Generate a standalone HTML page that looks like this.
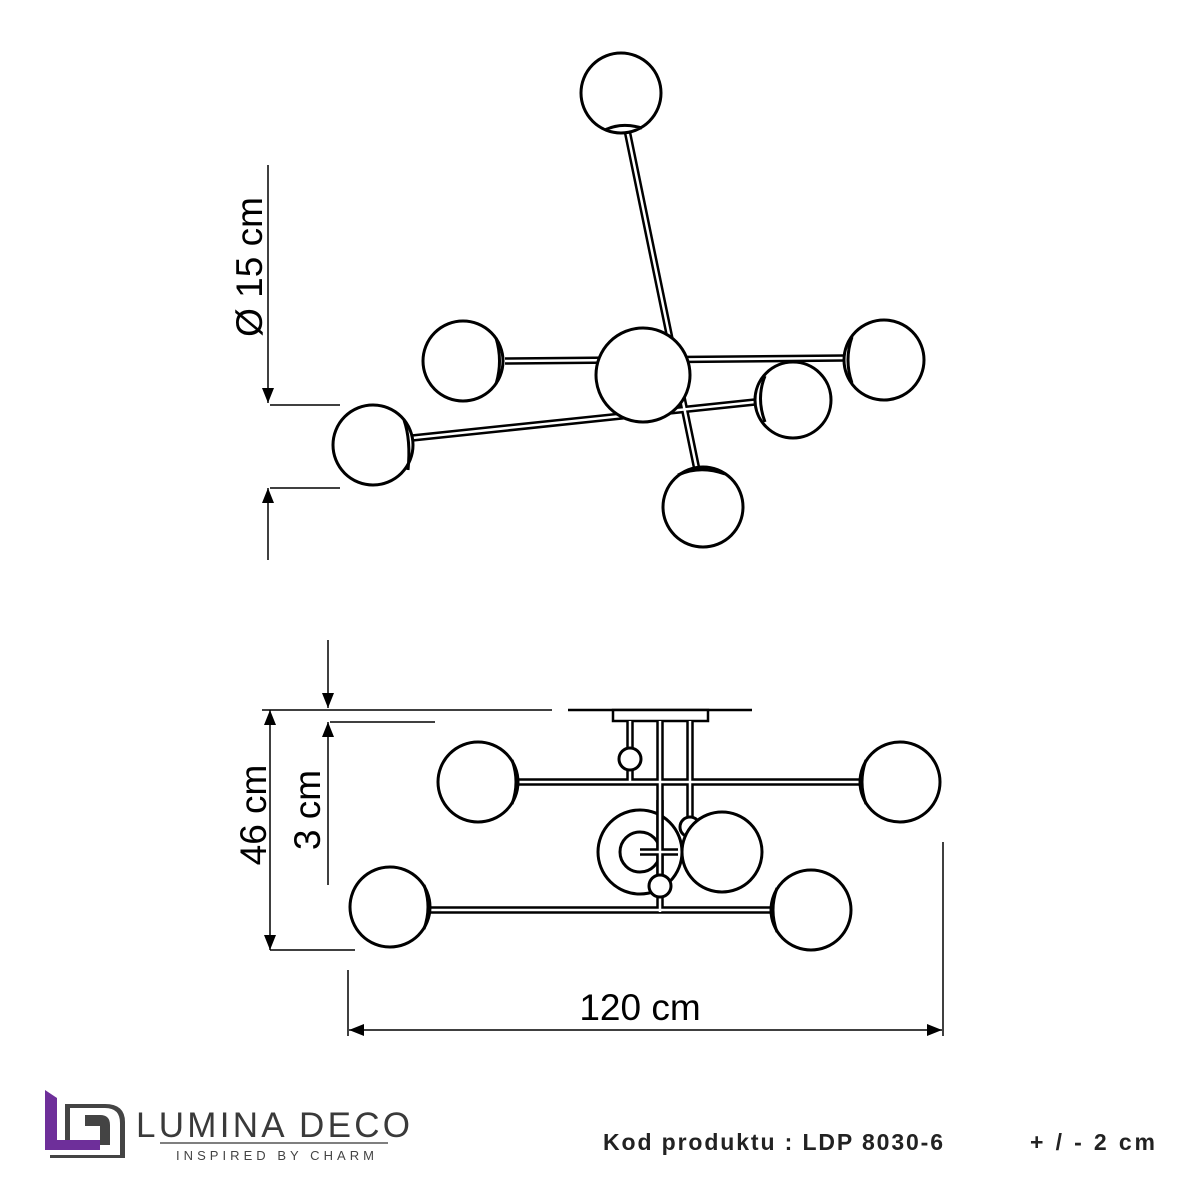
<!DOCTYPE html>
<html><head><style>body{margin:0;background:#fff}svg{display:block}</style></head><body>
<svg width="1201" height="1201" viewBox="0 0 1201 1201" xmlns="http://www.w3.org/2000/svg" font-family="'Liberation Sans',sans-serif">
<defs>
<marker id="a" viewBox="0 0 10 10" refX="10" refY="5" markerWidth="15" markerHeight="15" markerUnits="userSpaceOnUse" orient="auto"><path d="M0,1 L10,5 L0,9 z" fill="#000"/></marker>
</defs>
<g stroke="#000" fill="none">
<g stroke-width="7.5"><line x1="627" y1="130" x2="697" y2="470"/><line x1="505" y1="361" x2="845" y2="358"/><line x1="412" y1="438" x2="755" y2="402"/></g>
<g stroke="#fff" stroke-width="2.5"><line x1="627" y1="130" x2="697" y2="470"/><line x1="505" y1="361" x2="845" y2="358"/><line x1="412" y1="438" x2="755" y2="402"/></g>
<g stroke-width="3" fill="#fff">
<circle cx="621" cy="93" r="40"/><path d="M605,130 Q621,122 642,128"/>
<circle cx="463" cy="361" r="40"/><path d="M496,338 Q503,361 496,384"/>
<circle cx="373" cy="445" r="40"/><path d="M404,420 Q411,440 408,470"/>
<circle cx="884" cy="360" r="40"/><path d="M852,337 Q844,360 852,383"/>
<circle cx="793" cy="400" r="38"/><path d="M765,376 Q756,398 765,422"/>
<circle cx="703" cy="507" r="40"/><path d="M678,475 Q700,465 725,474"/>
<circle cx="643" cy="375" r="47"/>
</g>
<g stroke-width="1.5">
<line x1="268" y1="165" x2="268" y2="403" marker-end="url(#a)"/>
<line x1="268" y1="560" x2="268" y2="488" marker-end="url(#a)"/>
<line x1="270" y1="405" x2="340" y2="405"/><line x1="270" y1="488" x2="340" y2="488"/>
</g>
<g stroke-width="1.5"><line x1="330" y1="710" x2="552" y2="710"/><line x1="330" y1="722" x2="435" y2="722"/></g>
<line x1="568" y1="710" x2="752" y2="710" stroke-width="2.5"/>
<rect x="613" y="710" width="95" height="11" stroke-width="2.5" fill="#fff"/>
<g stroke-width="7.5"><line x1="510" y1="782" x2="865" y2="782"/><line x1="425" y1="910" x2="775" y2="910"/>
<line x1="660" y1="721" x2="660" y2="912"/><line x1="690" y1="721" x2="690" y2="820"/><line x1="630" y1="721" x2="630" y2="782"/></g>
<g stroke="#fff" stroke-width="2.5"><line x1="510" y1="782" x2="865" y2="782"/><line x1="425" y1="910" x2="775" y2="910"/>
<line x1="660" y1="721" x2="660" y2="912"/><line x1="690" y1="721" x2="690" y2="820"/><line x1="630" y1="721" x2="630" y2="782"/></g>
<g stroke-width="3" fill="#fff">
<circle cx="478" cy="782" r="40"/><path d="M512,760 Q520,782 512,804"/>
<circle cx="900" cy="782" r="40"/><path d="M866,760 Q858,782 866,804"/>
<circle cx="390" cy="907" r="40"/><path d="M424,885 Q432,907 424,929"/>
<circle cx="811" cy="910" r="40"/><path d="M777,888 Q769,910 777,932"/>
<circle cx="630" cy="759" r="11"/>
<circle cx="690" cy="827" r="10"/>
</g>
<circle cx="640" cy="852" r="42" stroke-width="3"/>
<circle cx="640" cy="852" r="20" stroke-width="3"/>
<g stroke-width="7.5"><line x1="640" y1="852" x2="678" y2="852"/><line x1="660" y1="800" x2="660" y2="880"/></g>
<g stroke="#fff" stroke-width="2.5"><line x1="640" y1="852" x2="678" y2="852"/><line x1="660" y1="800" x2="660" y2="880"/></g>
<circle cx="722" cy="852" r="40" stroke-width="3" fill="#fff"/>
<circle cx="660" cy="886" r="11" stroke-width="3" fill="#fff"/>
<g stroke-width="1.5">
<line x1="270" y1="830" x2="270" y2="710" marker-end="url(#a)"/>
<line x1="270" y1="830" x2="270" y2="950" marker-end="url(#a)"/>
<line x1="262" y1="710" x2="330" y2="710"/><line x1="270" y1="950" x2="355" y2="950"/>
<line x1="328" y1="640" x2="328" y2="708" marker-end="url(#a)"/>
<line x1="328" y1="885" x2="328" y2="722" marker-end="url(#a)"/>
<line x1="348" y1="970" x2="348" y2="1036"/><line x1="943" y1="842" x2="943" y2="1036"/>
<line x1="640" y1="1030" x2="349" y2="1030" marker-end="url(#a)"/>
<line x1="640" y1="1030" x2="942" y2="1030" marker-end="url(#a)"/>
</g>
</g>
<g fill="#000">
<text transform="translate(262,267) rotate(-90)" text-anchor="middle" font-size="37">Ø 15 cm</text>
<text transform="translate(266,815) rotate(-90)" text-anchor="middle" font-size="37">46 cm</text>
<text transform="translate(320,810) rotate(-90)" text-anchor="middle" font-size="37">3 cm</text>
<text x="640" y="1020" text-anchor="middle" font-size="37">120 cm</text>
<text x="603" y="1150" font-size="23" font-weight="bold" fill="#222" textLength="340" lengthAdjust="spacing">Kod produktu :  LDP 8030-6</text>
<text x="1030" y="1150" font-size="23" font-weight="bold" fill="#222" textLength="125" lengthAdjust="spacing">+ / - 2 cm</text>
</g>
<path d="M45,1090 L57,1098 L57,1140 L100,1140 L100,1150 L45,1150 Z" fill="#6e2f9a"/>
<path d="M65,1108 L105,1108 Q120,1108 120,1123 L120,1155 L50,1155 L50,1158 L125,1158 L125,1122 Q125,1104 105,1104 L65,1104 L65,1140 L70,1140 L70,1108 Z" fill="#444"/>
<path d="M85,1115 L100,1115 Q110,1115 110,1125 L110,1145 L100,1145 L100,1126 L85,1126 Z" fill="#444"/>
<text x="136" y="1137" font-size="35" fill="#3a3a3a" textLength="274" lengthAdjust="spacing">LUMINA DECO</text>
<line x1="160" y1="1143" x2="388" y2="1143" stroke="#555" stroke-width="1.5"/>
<text x="176" y="1160" font-size="13" fill="#444" textLength="198" lengthAdjust="spacing">INSPIRED BY CHARM</text>
</svg>
</body></html>
